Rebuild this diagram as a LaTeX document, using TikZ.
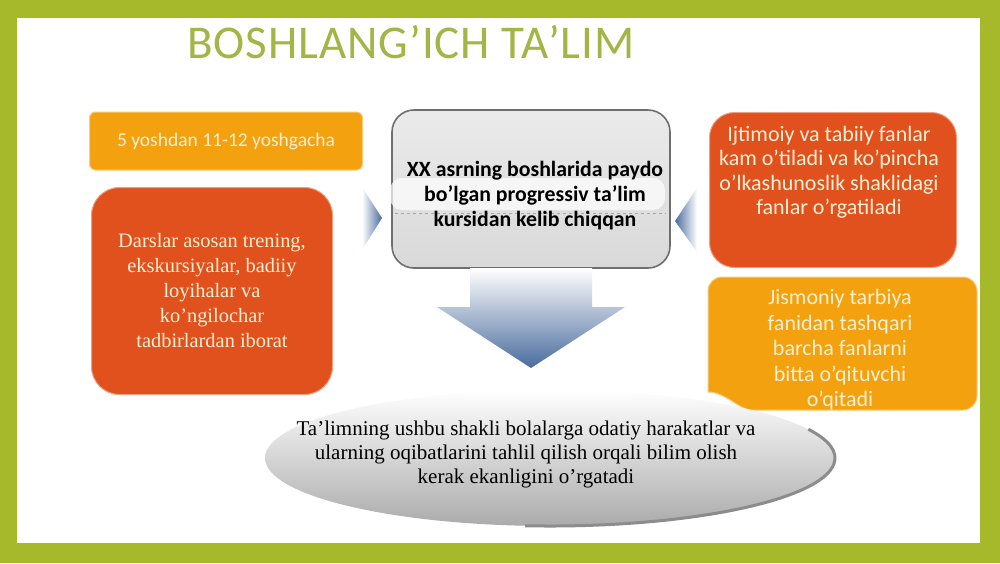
\documentclass[tikz,border=0pt]{standalone}
\usepackage{fontspec}
\setmainfont{Liberation Serif}
\newfontfamily\slidesans{Carlito}
\newfontfamily\titlesans[LetterSpace=2]{Carlito}

\definecolor{framegreen}{HTML}{A6B92B}
\definecolor{titlegreen}{HTML}{A2B545}
\definecolor{boxorange}{HTML}{F4A10F}
\definecolor{boxred}{HTML}{E0511E}
\definecolor{cream}{HTML}{FDEFD2}
\definecolor{arrowblue}{HTML}{4A6C9E}
\definecolor{boxgray}{HTML}{6E6E6E}

\tikzset{
  titletext/.style={font=\titlesans\fontsize{47}{50}\selectfont, text=titlegreen},
  sanstext/.style={font=\slidesans\fontsize{22}{25.5}\selectfont, text=cream, align=center},
  seriftext/.style={font=\fontsize{20.4}{25}\selectfont, align=center},
  plate/.style={inner sep=0pt, minimum width=#1},
  graybox/.style={draw=boxgray, line width=1.6pt, rounded corners=22pt,
    top color=black!8, bottom color=black!15, inner sep=0pt,
    minimum width=278pt, minimum height=158pt}
}

\begin{document}
\begin{tikzpicture}[x=1pt,y=-1pt]
\useasboundingbox (0,0) rectangle (1000,563);
\fill[framegreen] (0,0) rectangle (1000,563);
\fill[white] (17,18) rectangle (980,543);

% title
\node[titletext] (title) at (411,42) {BOSHLANG’ICH TA’LIM};

% left column
\node[plate=273pt, minimum height=58pt, rounded corners=6pt, fill=boxorange,
  draw=boxorange!55!white, line width=1pt, sanstext, font=\slidesans\fontsize{19.5}{24}\selectfont] (age) at (226,141)
  {5 yoshdan 11-12 yoshgacha};
\node[plate=241pt, minimum height=207pt, rounded corners=28pt, fill=boxred,
  draw=boxred!55!white, line width=1pt, seriftext, text=cream] (lessons) at (212,291)
  {Darslar asosan trening,\\ekskursiyalar, badiiy\\loyihalar va\\ko’ngilochar\\tadbirlardan iborat};

% centre
\node[graybox] (origin) at (531,189) {};
\fill[white, opacity=0.7, rounded corners=12pt] (390,178) rectangle (665,210);
\draw[dashed, black!35, line width=0.6pt] (395,213) -- (666,213);
\node[font=\slidesans\bfseries\fontsize{21.8}{25}\selectfont, align=center] (originText) at (535,196)
  {XX asrning boshlarida paydo\\bo’lgan progressiv ta’lim\\kursidan kelib chiqqan};

\shade[left color=white, right color=arrowblue] (362,187) -- (382,218) -- (362,250) -- cycle;
\shade[left color=arrowblue, right color=white] (697,188) -- (675,221) -- (697,252) -- cycle;
\shade[top color=white, middle color=arrowblue!40!white, bottom color=arrowblue]
  (470,268) -- (592,268) -- (592,307) -- (625,307) -- (531,368) -- (437,307) -- (470,307) -- cycle;

% right column
\node[plate=247pt, minimum height=155pt, rounded corners=25pt, fill=boxred,
  draw=boxred!55!white, line width=1pt] (subjects) at (833,190) {};
\node[sanstext, font=\slidesans\fontsize{22}{24.5}\selectfont] (subjectsText) at (829,172)
  {Ijtimoiy va tabiiy fanlar\\kam o’tiladi va ko’pincha\\o’lkashunoslik shaklidagi\\fanlar o’rgatiladi};

\draw[fill=boxorange, draw=boxorange!55!white, line width=1pt, rounded corners=14pt]
  (708,277) -- (977,277) -- (977,410) -- (765,410) [sharp corners]
  .. controls (740,410) and (725,392) .. (708,392) [rounded corners=14pt] -- cycle;
\node[sanstext] (teacher) at (840,350)
  {Jismoniy tarbiya\\fanidan tashqari\\barcha fanlarni\\bitta o’qituvchi\\o’qitadi};

% bottom dish
\shade[top color=white, bottom color=black!33] (550,458) ellipse [x radius=285, y radius=68];
\draw[black!45, line width=3pt] (550,458) ++(95:285 and 68)
  arc [start angle=95, end angle=-25, x radius=285, y radius=68];
\node[seriftext, font=\fontsize{21}{24}\selectfont] (summary) at (526,454)
  {Ta’limning ushbu shakli bolalarga odatiy harakatlar va\\ularning oqibatlarini tahlil qilish orqali bilim olish\\kerak ekanligini o’rgatadi};
\end{tikzpicture}
\end{document}
